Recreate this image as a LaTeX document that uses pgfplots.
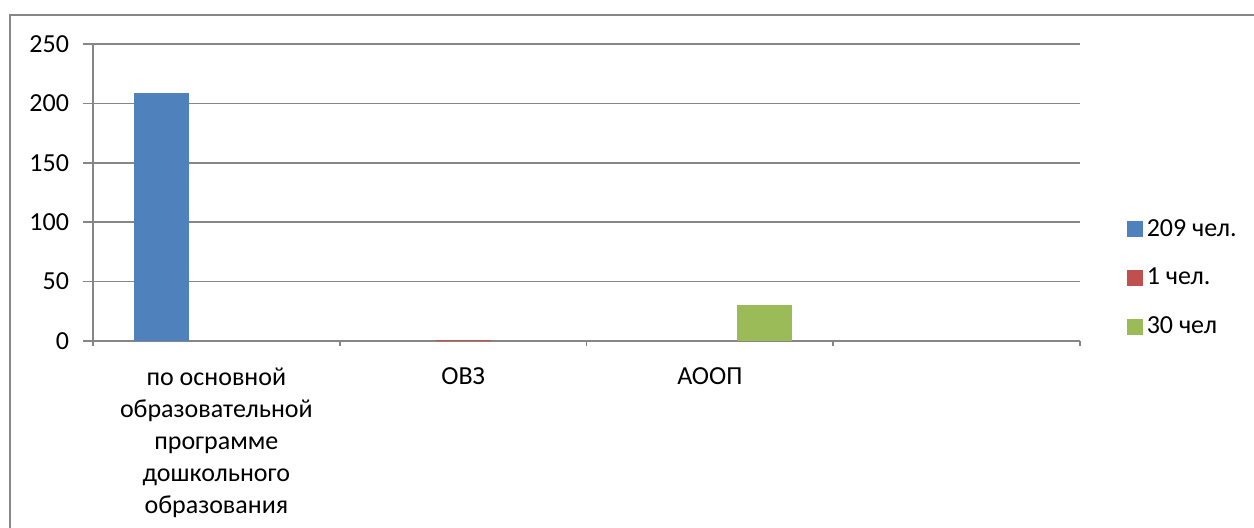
\documentclass[border=0pt]{standalone}
\usepackage{fontspec}
\setmainfont{Carlito}
\usepackage{pgfplots}
\pgfplotsset{compat=1.18}
\definecolor{sblue}{HTML}{4F81BD}
\definecolor{sred}{HTML}{C0504D}
\definecolor{sgreen}{HTML}{9BBB59}
\definecolor{gridc}{HTML}{868686}
\begin{document}
\begin{tikzpicture}[font=\fontsize{13pt}{16pt}\selectfont]
\useasboundingbox (0,0) rectangle (627pt,264pt);
\draw[gridc, line width=0.8pt] (5pt,-1pt) -- (5pt,256.5pt) -- (628pt,256.5pt);
\begin{axis}[
  at={(46.5pt,93.5pt)}, anchor=south west,
  scale only axis, width=493.5pt, height=148.5pt,
  xmin=-0.5, xmax=3.5, ymin=0, ymax=250,
  ytick={0,50,...,250},
  ymajorgrids,
  grid style={gridc, line width=0.8pt},
  axis lines*=left,
  axis line style={gridc, line width=0.8pt},
  tick style={gridc, line width=0.8pt},
  tick align=outside,
  major tick length=5pt,
  minor tick length=2.5pt,
  xtick={0,1,2},
  xticklabels={{по основной\\образовательной\\программе\\дошкольного\\образования},{ОВЗ},{АООП}},
  major x tick style={draw=none},
  minor xtick={-0.5,0.5,1.5,2.5,3.5},
  xticklabel style={align=center, anchor=north, yshift=-5pt, font=\fontsize{13pt}{16pt}\selectfont},
  yticklabel style={xshift=-3.5pt, font=\fontsize{13pt}{16pt}\selectfont},
  /pgf/number format/assume math mode=true,
  ybar, bar width=27.5pt,
  legend style={at={(1.047,0.212)}, anchor=west, draw=none, fill=none,
     inner sep=0pt, row sep=10.5pt, font=\fontsize{13pt}{16pt}\selectfont},
  legend cell align=left,
  legend image code/.code={\fill[#1] (-2pt,-4pt) rectangle (6pt,4pt);},
]
\addplot[fill=sblue, draw=none, bar shift=-27.5pt] coordinates {(0,209)};
\addlegendentry{209 чел.}
\addplot[fill=sred, draw=none, bar shift=0pt] coordinates {(1,1)};
\addlegendentry{1 чел.}
\addplot[fill=sgreen, draw=none, bar shift=27.5pt] coordinates {(2,30)};
\addlegendentry{30 чел}
\end{axis}
\end{tikzpicture}
\end{document}
